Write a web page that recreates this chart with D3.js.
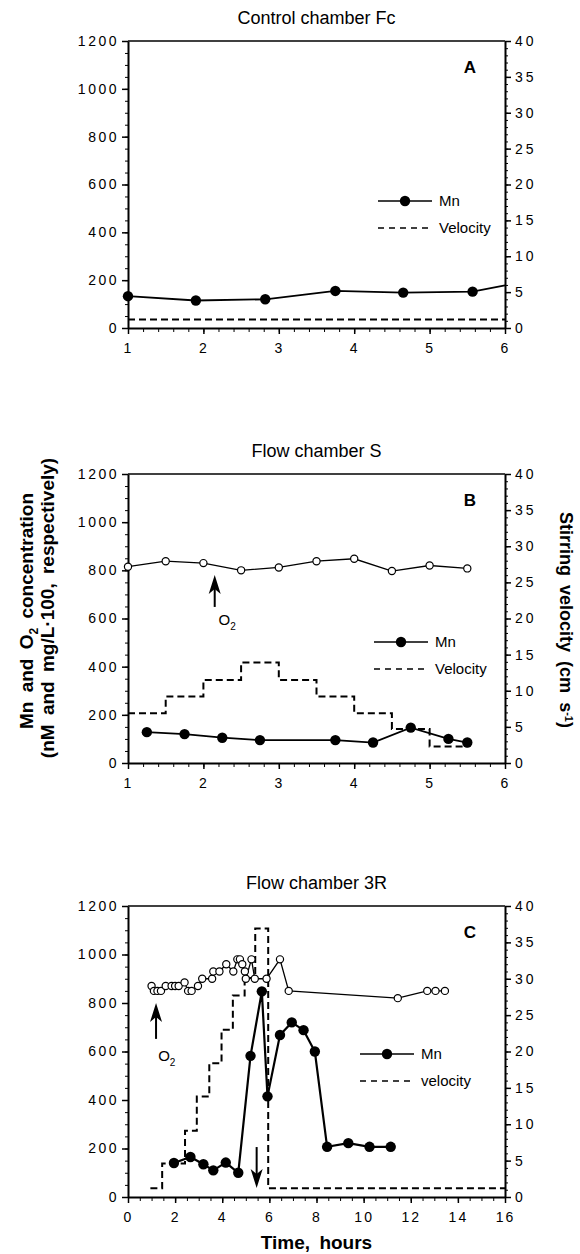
<!DOCTYPE html>
<html>
<head>
<meta charset="utf-8">
<script src="https://cdn.jsdelivr.net/npm/d3@7"></script>
<style>
body{margin:0;background:#fff;}
text{font-family:"Liberation Sans",Arial,Helvetica,sans-serif;fill:#000;}
</style>
</head>
<body>
<svg id="chart" width="580" height="1254"></svg>
<script>
// Values. Time in hours, Mn and O2 on the left axis, velocity (cm/s) on the right axis.

// Panel A - Control chamber Fc
var mnA = [[1.0,133],[1.9,115],[2.82,120],[3.75,155],[4.65,148],[5.57,152],[6.0,178]];
var velA = [[1.0,1.2],[6.0,1.2]];

// Panel B - Flow chamber S
var o2B = [[1.0,815],[1.5,838],[2.0,830],[2.5,800],[3.0,812],[3.5,838],[4.0,848],[4.5,797],[5.0,820],[5.5,808]];
var mnB = [[1.25,128],[1.75,120],[2.25,105],[2.75,95],[3.75,95],[4.25,85],[4.75,147],[5.25,100],[5.5,85]];
var velB = [[1.0,6.9],[1.5,9.2],[2.0,11.5],[2.5,13.9],[3.0,11.5],[3.5,9.2],[4.0,6.9],[4.5,4.7],[5.0,2.3],[5.5,2.3]];

// Panel C - Flow chamber 3R
var o2C = [[1.0,870],[1.1,850],[1.25,850],[1.4,850],[1.6,870],[1.85,870],[2.0,870],[2.15,870],[2.4,885],[2.55,850],
	[2.7,850],[2.97,870],[3.15,900],[3.57,900],[3.62,930],[3.88,930],[4.17,960],[4.47,930],[4.64,980],[4.75,980],
	[4.85,960],[4.96,930],[5.0,900],[5.24,980],[5.38,900],[5.88,900],[6.45,980],[6.82,850],[11.45,820],[12.7,850],
	[13.05,850],[13.45,850]];
var mnC = [[1.95,140],[2.65,165],[3.2,135],[3.62,110],[4.15,142],[4.68,100],[5.2,582],[5.68,848],[5.92,415],
	[6.45,668],[6.95,720],[7.45,688],[7.93,600],[8.45,207],[9.35,222],[10.25,207],[11.15,207]];
var velC = [[0.95,1.2],[1.45,4.6],[2.42,9.1],[2.92,13.8],[3.45,18.4],[3.97,23.0],[4.45,27.7],[4.95,30.1],[5.4,36.9],[5.95,1.2],[16,1.2]];

// Tick values
var leftTicks = [0,200,400,600,800,1000,1200];
var rightTicks = [0,5,10,15,20,25,30,35,40];
var xTicksAB = [1,2,3,4,5,6];
var xTicksC = [0,2,4,6,8,10,12,14,16];

var svg = d3.select("#chart");
var plotLeft = 128, plotRight = 505;
var intFormat = d3.format("d");

// Draws a vertical arrow from y0 to the tip y1 (pixel coordinates)
function drawArrow(g, x, y0, y1){
	var dir = y1 < y0 ? 1 : -1;
	g.append("line").attr("x1", x).attr("x2", x).attr("y1", y0).attr("y2", y1 + dir*10)
		.attr("stroke", "#000").attr("stroke-width", 2);
	g.append("path").attr("d", "M" + x + "," + y1 + " L" + (x-6) + "," + (y1 + dir*19) + " L" + x + "," + (y1 + dir*14) +
		" L" + (x+6) + "," + (y1 + dir*19) + " Z").attr("fill", "#000");
}

// Writes "O2" with the 2 as subscript
function drawO2(g, x, y){
	var t = g.append("text").attr("x", x).attr("y", y).attr("font-size", 15);
	t.append("tspan").text("O");
	t.append("tspan").attr("dy", 5).attr("font-size", 10).text("2");
}

function styleAxisText(sel, spacing){
	sel.selectAll("text").attr("font-size", 14).style("letter-spacing", spacing + "px")
		.style("font-family", "'Liberation Sans',Arial,sans-serif");
	sel.selectAll("line").attr("stroke-width", 1.5);
}

function drawPanel(p){
	var x = d3.scaleLinear().domain(p.xDomain).range([plotLeft, plotRight]);
	var y = d3.scaleLinear().domain([0,1200]).range([p.bottom, p.top]);
	var yR = d3.scaleLinear().domain([0,40]).range([p.bottom, p.top]);
	var g = svg.append("g");

	// minor ticks
	var mL = g.append("g").attr("transform", "translate(" + plotLeft + ",0)")
		.call(d3.axisLeft(y).tickValues(d3.range(0,1201,50)).tickSize(3).tickFormat(""));
	mL.select(".domain").remove();
	var mR = g.append("g").attr("transform", "translate(" + plotRight + ",0)")
		.call(d3.axisRight(yR).tickValues(d3.range(0,41,1)).tickSize(3).tickFormat(""));
	mR.select(".domain").remove();
	var mB = g.append("g").attr("transform", "translate(0," + p.bottom + ")")
		.call(d3.axisBottom(x).tickValues(d3.range(p.xDomain[0], p.xDomain[1] + 0.001, p.xMinor)).tickSize(4).tickFormat(""));
	mB.select(".domain").remove();

	// major axes
	var aL = g.append("g").attr("transform", "translate(" + plotLeft + ",0)")
		.call(d3.axisLeft(y).tickValues(leftTicks).tickFormat(intFormat).tickSize(6).tickSizeOuter(0).tickPadding(3));
	styleAxisText(aL, 2.5);
	aL.select(".domain").attr("stroke-width", 2);
	var aR = g.append("g").attr("transform", "translate(" + plotRight + ",0)")
		.call(d3.axisRight(yR).tickValues(rightTicks).tickFormat(intFormat).tickSize(6).tickSizeOuter(0).tickPadding(4));
	styleAxisText(aR, 3);
	aR.select(".domain").attr("stroke-width", 2);
	var aB = g.append("g").attr("transform", "translate(0," + p.bottom + ")")
		.call(d3.axisBottom(x).tickValues(p.xTicks).tickFormat(intFormat).tickSize(6).tickSizeOuter(0).tickPadding(9));
	styleAxisText(aB, 2);
	aB.select(".domain").attr("stroke-width", 2);
	g.append("line").attr("x1", plotLeft).attr("x2", plotRight).attr("y1", p.top).attr("y2", p.top)
		.attr("stroke", "#000").attr("stroke-width", 1.5);

	// velocity step line
	var velLine = d3.line().x(function(d){ return x(d[0]); }).y(function(d){ return yR(d[1]); }).curve(d3.curveStepAfter);
	g.append("path").datum(p.vel).attr("d", velLine).attr("fill", "none").attr("stroke", "#000")
		.attr("stroke-width", 2).attr("stroke-dasharray", "7,4");

	var conLine = d3.line().x(function(d){ return x(d[0]); }).y(function(d){ return y(d[1]); });

	// O2 series with open circles
	if(p.o2){
		g.append("path").datum(p.o2).attr("d", conLine).attr("fill", "none").attr("stroke", "#000").attr("stroke-width", 1.3);
		g.selectAll(".o2pt").data(p.o2).enter().append("circle")
			.attr("cx", function(d){ return x(d[0]); }).attr("cy", function(d){ return y(d[1]); })
			.attr("r", 3.6).attr("fill", "#fff").attr("stroke", "#000").attr("stroke-width", 1.2);
	}

	// Mn series with filled circles (the line of panel A runs on to the edge without a marker)
	g.append("path").datum(p.mn).attr("d", conLine).attr("fill", "none").attr("stroke", "#000").attr("stroke-width", p.mnWidth);
	g.selectAll(".mnpt").data(p.mn.filter(function(d){ return d[0] < p.xDomain[1]; })).enter().append("circle")
		.attr("cx", function(d){ return x(d[0]); }).attr("cy", function(d){ return y(d[1]); })
		.attr("r", 5.2).attr("fill", "#000");

	// title and panel letter
	g.append("text").attr("x", (plotLeft + plotRight)/2).attr("y", p.top - 17).attr("text-anchor", "middle")
		.attr("font-size", 18).text(p.title);
	g.append("text").attr("x", 470).attr("y", p.top + 32).attr("text-anchor", "middle")
		.attr("font-size", 17).attr("font-weight", "bold").text(p.letter);

	// legend
	var lg = g.append("g").attr("transform", "translate(" + p.legendX + "," + (p.top + p.legendY) + ")");
	lg.append("line").attr("x1", 0).attr("x2", 54).attr("y1", 0).attr("y2", 0).attr("stroke", "#000").attr("stroke-width", 1.5);
	lg.append("circle").attr("cx", 27).attr("cy", 0).attr("r", 5.2).attr("fill", "#000");
	lg.append("text").attr("x", 61).attr("y", 5).attr("font-size", 15).text("Mn");
	lg.append("line").attr("x1", 0).attr("x2", 54).attr("y1", 27).attr("y2", 27).attr("stroke", "#000")
		.attr("stroke-width", 1.5).attr("stroke-dasharray", "6,5");
	lg.append("text").attr("x", 61).attr("y", 32).attr("font-size", 15).text(p.velName);

	// O2 arrows
	if(p.o2Arrow){
		drawArrow(g, x(p.o2Arrow[0]), y(p.o2Arrow[1]), y(p.o2Arrow[2]));
		drawO2(g, x(p.o2Label[0]), y(p.o2Label[1]));
	}
	if(p.downArrow){
		drawArrow(g, x(p.downArrow[0]), y(p.downArrow[1]), y(p.downArrow[2]));
	}
	return g;
}

drawPanel({top: 41, bottom: 328, xDomain: [1,6], xTicks: xTicksAB, xMinor: 0.2, title: "Control chamber  Fc", letter: "A",
	mn: mnA, vel: velA, mnWidth: 1.8, legendX: 378, legendY: 160, velName: "Velocity"});

drawPanel({top: 474, bottom: 763, xDomain: [1,6], xTicks: xTicksAB, xMinor: 0.2, title: "Flow chamber S", letter: "B",
	mn: mnB, vel: velB, o2: o2B, mnWidth: 1.8, legendX: 374, legendY: 168, velName: "Velocity",
	o2Arrow: [2.15, 648, 781], o2Label: [2.2, 575]});

drawPanel({top: 906, bottom: 1197, xDomain: [0,16], xTicks: xTicksC, xMinor: 0.5, title: "Flow chamber 3R", letter: "C",
	mn: mnC, vel: velC, o2: o2C, mnWidth: 2.2, legendX: 360, legendY: 148, velName: "velocity",
	o2Arrow: [1.19, 652, 800], o2Label: [1.28, 562], downArrow: [5.46, 206, 37]});

// axis titles
var lt = svg.append("text").attr("transform", "translate(33,611) rotate(-90)").attr("text-anchor", "middle")
	.attr("font-size", 19).attr("font-weight", "bold").attr("word-spacing", 4);
lt.append("tspan").text("Mn and O");
lt.append("tspan").attr("dy", 5).attr("font-size", 12).text("2");
lt.append("tspan").attr("dy", -5).text(" concentration");
svg.append("text").attr("transform", "translate(54,608) rotate(-90)").attr("text-anchor", "middle")
	.attr("font-size", 19).attr("font-weight", "bold").attr("word-spacing", 4).text("(nM and mg/L\u00b7100, respectively)");

var rt = svg.append("text").attr("transform", "translate(560,620) rotate(90)").attr("text-anchor", "middle")
	.attr("font-size", 18).attr("font-weight", "bold").attr("word-spacing", 4);
rt.append("tspan").text("Stirring velocity (cm s");
rt.append("tspan").attr("dy", -5).attr("font-size", 11).text("-1");
rt.append("tspan").attr("dy", 5).text(")");

svg.append("text").attr("x", (plotLeft + plotRight)/2).attr("y", 1249).attr("text-anchor", "middle")
	.attr("font-size", 19).attr("font-weight", "bold").attr("word-spacing", 4).text("Time, hours");
</script>
</body>
</html>
